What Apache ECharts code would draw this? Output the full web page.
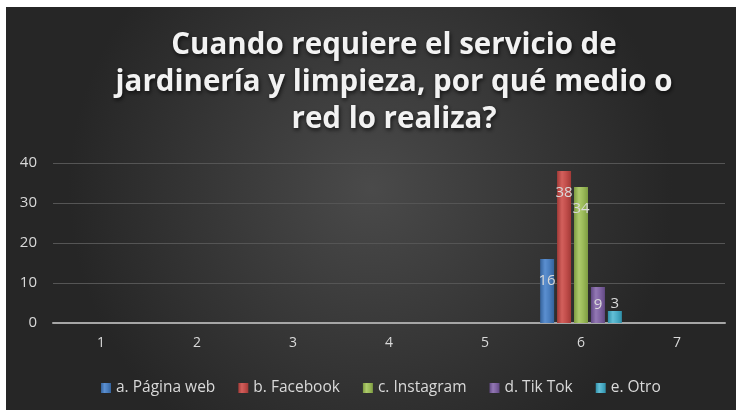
<!DOCTYPE html>
<html>
<head>
<meta charset="utf-8">
<script src="https://cdn.jsdelivr.net/npm/echarts@6/dist/echarts.min.js"></script>
<style>
  html, body { margin: 0; padding: 0; background: #fff; }
  #chart { position: absolute; left: 6px; top: 7px; width: 730px; height: 403px; }
</style>
</head>
<body>
<div id="chart"></div>
<script>
// categories and values
const categories = ['1', '2', '3', '4', '5', '6', '7'];
const paginaWeb = [null, null, null, null, null, 16, null];
const facebook = [null, null, null, null, null, 38, null];
const instagram = [null, null, null, null, null, 34, null];
const tikTok = [null, null, null, null, null, 9, null];
const otro = [null, null, null, null, null, 3, null];
const seriesNames = ['a. Página web', 'b. Facebook', 'c. Instagram', 'd. Tik Tok', 'e. Otro'];
const yTicks = { min: 0, max: 40, interval: 10 };

const fontFam = '"Open Sans", Lato, sans-serif';
const txt = '#d9d9d9';

function barColor(dark, mid, light) {
  return {
    type: 'linear', x: 0, y: 0, x2: 1, y2: 0,
    colorStops: [
      { offset: 0, color: dark },
      { offset: 0.35, color: light },
      { offset: 0.65, color: mid },
      { offset: 1, color: dark }
    ]
  };
}

const colors = [
  barColor('#35639c', '#4a7ebe', '#5b8fd0'),
  barColor('#a23a37', '#c24e4b', '#d3605c'),
  barColor('#7e9c42', '#9bbb59', '#aecb6c'),
  barColor('#634a85', '#8064a2', '#9378b4'),
  barColor('#2f8fa8', '#4bacc6', '#63bfd6')
];
const flatColors = ['#4f81bd', '#c0504d', '#9bbb59', '#8064a2', '#4bacc6'];

function mkSeries(i, data, label) {
  return {
    name: seriesNames[i],
    type: 'bar',
    data: data,
    barWidth: 14,
    barGap: '21%',
    itemStyle: { color: colors[i] },
    label: Object.assign({
      show: true,
      position: 'insideTop',
      distance: 14,
      color: txt,
      fontSize: 15,
      fontFamily: fontFam
    }, label || {})
  };
}

let chart = echarts.init(document.getElementById('chart'));
chart.setOption({
  backgroundColor: {
    type: 'radial', x: 0.5, y: 0.45, r: 0.75,
    colorStops: [
      { offset: 0, color: '#4a4a4a' },
      { offset: 1, color: '#262626' }
    ]
  },
  color: flatColors,
  title: {
    text: 'Cuando requiere el servicio de\njardinería y limpieza, por qué medio o\nred lo realiza?',
    left: 383,
    textAlign: 'center',
    top: 15,
    textStyle: {
      color: '#f2f2f2',
      fontSize: 29.5,
      fontWeight: 'bold',
      fontFamily: fontFam,
      lineHeight: 37,
      textShadowColor: 'rgba(0,0,0,0.7)',
      textShadowBlur: 4,
      textShadowOffsetX: 1,
      textShadowOffsetY: 2
    }
  },
  grid: { left: 47, right: 11, top: 156, bottom: 87, containLabel: false },
  legend: {
    top: 373,
    left: 95,
    padding: 0,
    icon: 'rect',
    itemWidth: 10,
    itemHeight: 10,
    itemGap: 23,
    textStyle: { color: txt, fontSize: 15.5, fontFamily: fontFam },
    data: seriesNames
  },
  xAxis: {
    type: 'category',
    data: categories,
    axisLine: { lineStyle: { color: '#a6a6a6', width: 2 } },
    axisTick: { show: false },
    axisLabel: { color: txt, fontSize: 14, fontFamily: fontFam, margin: 13 }
  },
  yAxis: {
    type: 'value',
    min: yTicks.min,
    max: yTicks.max,
    interval: yTicks.interval,
    axisLine: { show: false },
    axisTick: { show: false },
    axisLabel: { color: txt, fontSize: 15, fontFamily: fontFam, margin: 16 },
    splitLine: { lineStyle: { color: '#555555', width: 1 } }
  },
  series: [
    mkSeries(0, paginaWeb),
    mkSeries(1, facebook),
    mkSeries(2, instagram),
    mkSeries(3, tikTok, { distance: 10 }),
    mkSeries(4, otro, { position: 'top', distance: 0 })
  ]
});
</script>
</body>
</html>
